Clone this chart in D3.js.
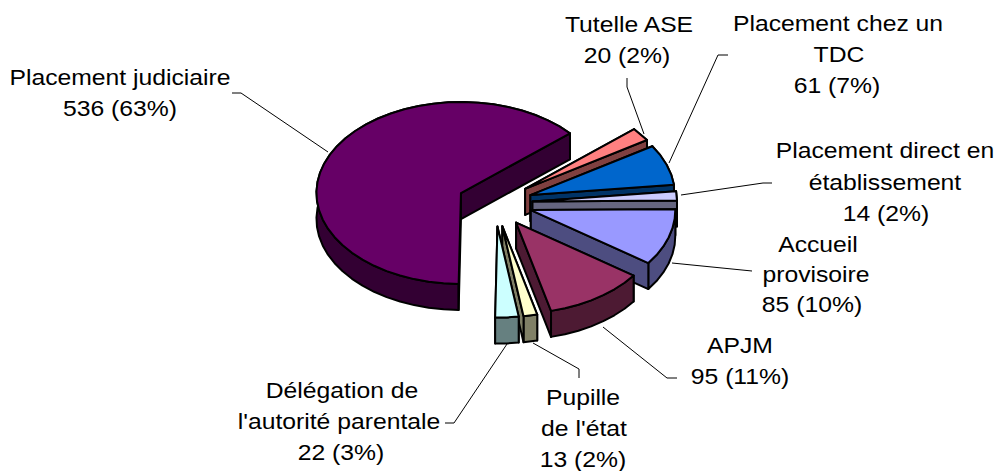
<!DOCTYPE html>
<html><head><meta charset="utf-8">
<script src="https://cdn.jsdelivr.net/npm/d3@7"></script>
<style>html,body{margin:0;padding:0;background:#fff}svg{display:block}text{font-family:"Liberation Sans",Arial,sans-serif;font-size:21.5px;fill:#000;text-anchor:middle}</style>
</head><body><svg id="c" width="996" height="471"></svg>
<script>
const categories=["Tutelle ASE","Placement chez un TDC","Placement direct en établissement","Accueil provisoire","APJM","Pupille de l'état","Délégation de l'autorité parentale","Placement judiciaire"];
const values=[20,61,14,85,95,13,22,536];
const percents=[2,7,2,10,11,2,3,63];
const topColors=["#FF8080","#0066CC","#CCCCFF","#9999FF","#993366","#FFFFCC","#CCFFFF","#660066"];
const wallColors=["#804040","#003366","#666680","#4D4D80","#4D1A33","#808066","#668080","#330033"];
const labelLines=[["Tutelle ASE"],["Placement chez un","TDC"],["Placement direct en","établissement"],["Accueil","provisoire"],["APJM"],["Pupille","de l'état"],["Délégation de","l'autorité parentale"],["Placement judiciaire"]];
const labelX=[[629,627],[838,839,837],[885,885,886],[818,816,812],[740,740],[583,584,583],[342,339,341],[120,120]];
const labelY=[[32,63],[31,62,93],[158,190,221],[252,282,312],[353,384],[405,436,467],[398,429,460],[85,116]];
const leaders=[[[627,78],[627,87],[644,134]],[[728,55],[718,55],[669,163]],[[772,183],[763,183],[681,195]],[[752,271],[742,270],[672,263]],[[677,378],[667,378],[603,327]],[[579,378],[579,369],[533,343]],[[445,423],[454,423],[507,344]],[[232,93],[241,93],[328,152]]];

const svg=d3.select("#c");
const startAngle=49*Math.PI/180, explode=0.26, depth=26;
const x=d3.scaleLinear().domain([-1,1]).range([495-144.5,495+144.5]);
const y=d3.scaleLinear().domain([-1,1]).range([203-91,203+91]);
const pie=d3.pie().sort(null).startAngle(startAngle).endAngle(startAngle+2*Math.PI);
const arcs=pie(values);
const line=d3.line();
const STEP=6*Math.PI/180;
arcs.forEach((a,i)=>{
  const mid=(a.startAngle+a.endAngle)/2;
  const ox=explode*Math.sin(mid), oy=-explode*Math.cos(mid);
  const P=(ang,r=1,dz=0)=>[x(ox+r*Math.sin(ang)),y(oy-r*Math.cos(ang))+dz];
  const n=Math.max(1,Math.round((a.endAngle-a.startAngle)/STEP));
  const angs=d3.range(n+1).map(k=>a.startAngle+(a.endAngle-a.startAngle)*k/n);
  const g=svg.append("g").attr("stroke","#000").attr("stroke-width",2).attr("stroke-linejoin","round");
  const poly=(pts,f)=>g.append("path").attr("d",line(pts)+"Z").attr("fill",f);
  const apex=P(0,0), apexB=P(0,0,depth);
  const wall=(ang)=>[apex,P(ang),P(ang,1,depth),apexB];
  const facing=(n)=>-Math.cos(n)>0;
  const ws=wall(a.startAngle), we=wall(a.endAngle);
  const sFront=facing(a.startAngle-Math.PI/2), eFront=facing(a.endAngle+Math.PI/2);
  if(!sFront) poly(ws,wallColors[i]);
  if(!eFront) poly(we,wallColors[i]);
  poly(angs.map(t=>P(t)).concat(angs.slice().reverse().map(t=>P(t,1,depth))),wallColors[i]);
  if(sFront) poly(ws,wallColors[i]);
  if(eFront) poly(we,wallColors[i]);
  poly([apex].concat(angs.map(t=>P(t))),topColors[i]);
});
const leadG=svg.append("g");
leaders.forEach(l=>leadG.append("path").attr("d",line(l)).attr("fill","none").attr("stroke","#000").attr("stroke-width",1));
categories.forEach((c,i)=>{
  const lines=labelLines[i].concat([values[i]+" ("+percents[i]+"%)"]);
  lines.forEach((t,k)=>svg.append("text").attr("transform","translate("+labelX[i][k]+","+labelY[i][k]+") scale(1.15,1)").text(t));
});
</script></body></html>
